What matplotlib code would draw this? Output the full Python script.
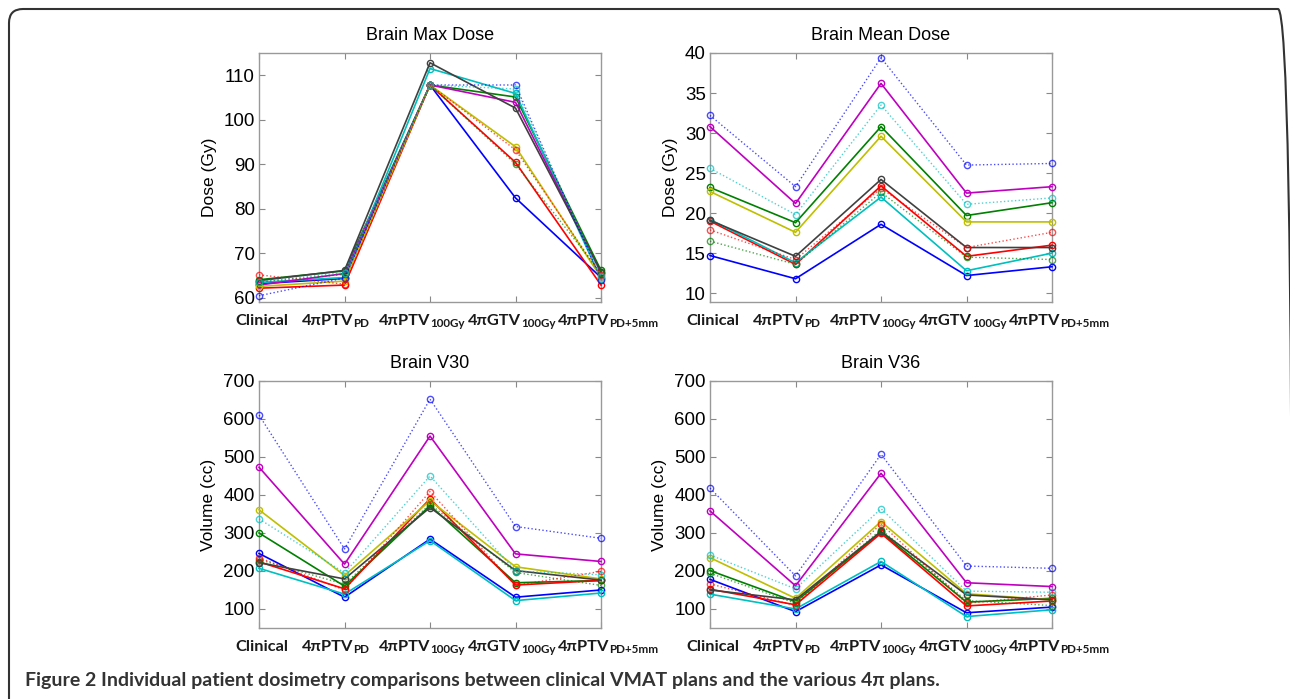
import matplotlib
matplotlib.use("Agg")
import matplotlib.pyplot as plt
from matplotlib.patches import FancyBboxPatch
from matplotlib.transforms import IdentityTransform, ScaledTranslation

plt.rcParams['font.family'] = ['Liberation Sans', 'DejaVu Sans']

# --- data ---
plan_main = ['Clinical', '4πPTV', '4πPTV', '4πGTV', '4πPTV']
plan_sub = ['', 'PD', '100Gy', '100Gy', 'PD+5mm']

# patient order: solid b g r c m y k, then dotted b g r c
max_dose = [
    [63.1, 64.3, 107.8, 82.4, 64.5],
    [64.0, 66.0, 107.8, 105.1, 66.1],
    [62.1, 62.8, 107.8, 90.4, 62.8],
    [63.4, 64.5, 111.5, 105.9, 64.2],
    [62.8, 65.4, 107.8, 103.9, 65.6],
    [62.5, 63.7, 107.8, 93.9, 64.5],
    [63.8, 66.1, 112.8, 102.6, 65.8],
    [60.4, 64.4, 107.8, 107.8, 64.0],
    [63.5, 65.2, 107.8, 90.0, 65.5],
    [65.1, 63.0, 107.8, 93.2, 65.1],
    [63.6, 65.6, 107.8, 106.9, 64.8],
]
mean_dose = [
    [14.7, 11.8, 18.6, 12.2, 13.3],
    [23.2, 18.8, 30.8, 19.7, 21.3],
    [19.0, 13.6, 23.4, 14.6, 16.0],
    [19.2, 13.8, 22.0, 12.8, 15.0],
    [30.8, 21.2, 36.2, 22.5, 23.3],
    [22.7, 17.6, 29.6, 18.9, 18.9],
    [19.1, 14.6, 24.2, 15.7, 15.7],
    [32.2, 23.3, 39.4, 26.0, 26.2],
    [16.5, 13.6, 22.6, 14.5, 14.2],
    [17.9, 14.2, 23.1, 15.7, 17.6],
    [25.6, 19.8, 33.5, 21.1, 21.9],
]
v30 = [
    [246, 131, 284, 131, 150],
    [300, 160, 372, 169, 175],
    [224, 153, 390, 163, 175],
    [207, 139, 280, 122, 142],
    [473, 218, 555, 245, 225],
    [361, 188, 385, 211, 179],
    [222, 179, 367, 201, 176],
    [610, 258, 652, 317, 286],
    [230, 165, 376, 196, 162],
    [235, 150, 409, 162, 199],
    [337, 195, 450, 200, 190],
]
v36 = [
    [178, 93, 216, 90, 105],
    [201, 119, 302, 118, 128],
    [152, 111, 299, 108, 121],
    [139, 100, 225, 80, 98],
    [358, 161, 457, 169, 159],
    [235, 128, 330, 140, 124],
    [150, 124, 304, 137, 124],
    [418, 187, 507, 213, 207],
    [194, 115, 309, 122, 109],
    [166, 109, 324, 115, 137],
    [242, 153, 364, 147, 144],
]

colors = ['#0000ff', '#008000', '#ff0000', '#00bfbf', '#bf00bf', '#bfbf00', '#404040',
          '#0000ff', '#008000', '#ff0000', '#00bfbf']
styles = ['-'] * 7 + [':'] * 4

fig = plt.figure(figsize=(12.9, 6.99), dpi=100)
renderer = fig.canvas.get_renderer()

panels = [
    ("Brain Max Dose", "Dose (Gy)", max_dose, (59, 115), range(60, 111, 10), [0.2008, 0.5680, 0.2651, 0.3562]),
    ("Brain Mean Dose", "Dose (Gy)", mean_dose, (8.9, 40), range(10, 41, 5), [0.5504, 0.5680, 0.2651, 0.3562]),
    ("Brain V30", "Volume (cc)", v30, (50, 700), range(100, 701, 100), [0.2008, 0.1016, 0.2651, 0.3534]),
    ("Brain V36", "Volume (cc)", v36, (50, 700), range(100, 701, 100), [0.5504, 0.1016, 0.2651, 0.3534]),
]

LAB = dict(fontfamily=['Lato', 'DejaVu Sans'], fontweight='bold', color='#1a1a1a', va='baseline')
# the labels in the original are spread evenly, not exactly centred on the ticks
label_shift = [3, -9, -8, -4, 7]


def px(dx, dy):
    return ScaledTranslation(dx / 100, dy / 100, fig.dpi_scale_trans)


def plan_label(ax, xi, main, sub, shift):
    # main text + smaller subscript under the tick
    base = ax.get_xaxis_transform()
    t1 = ax.text(xi, 0, main, fontsize=11.8, transform=base, ha='left', **LAB)
    w1 = t1.get_window_extent(renderer).width
    w2 = 0
    t2 = None
    if sub:
        t2 = ax.text(xi, 0, sub, fontsize=8.4, transform=base, ha='left', **LAB)
        w2 = t2.get_window_extent(renderer).width
    x0 = -(w1 + w2) / 2 + shift
    t1.set_transform(base + px(x0, -23))
    if t2 is not None:
        t2.set_transform(base + px(x0 + w1, -25))


x = [1, 2, 3, 4, 5]
for title, ylab, data, ylim, yt, rect in panels:
    ax = fig.add_axes(rect)
    for vals, c, ls in zip(data, colors, styles):
        lw = 1.2 if ls == '-' else 1.0
        alpha = 1.0 if ls == '-' else 0.7
        ax.plot(x, vals, ls, color=c, lw=lw, alpha=alpha, marker='o', ms=4.5,
                mfc='none', mew=1.0, clip_on=False, zorder=3)
    ax.set_xlim(1, 5)
    ax.set_ylim(*ylim)
    ax.set_yticks(list(yt))
    ax.set_xticks(x)
    ax.set_xticklabels([])
    for xi, m, s, sh in zip(x, plan_main, plan_sub, label_shift):
        plan_label(ax, xi, m, s, sh)
    ax.tick_params(direction='in', length=4, top=True, right=True, width=0.8,
                   colors='#888888')
    ax.tick_params(axis='y', labelsize=13.5, labelcolor='black', pad=3)
    for s in ax.spines.values():
        s.set_color('#999999')
        s.set_linewidth(1.0)
    ax.set_title(title, fontsize=13, pad=9)
    ax.set_ylabel(ylab, fontsize=12.5, labelpad=5)

fig.text(0.019, 0.026, "Figure 2 Individual patient dosimetry comparisons between clinical VMAT plans and the various 4\u03c0 plans.",
         fontfamily=['Lato', 'DejaVu Sans'], fontweight='bold', fontsize=14, color='#333333',
         va='center', ha='left')

# rounded frame around the figure (pixel coordinates, origin bottom-left)
frame = FancyBboxPatch((9, -30), 1283, 699 - 9 + 30,
                       boxstyle="round,pad=0,rounding_size=14",
                       transform=IdentityTransform(), fill=False, ec='#333333', lw=1.5)
fig.patches.append(frame)

fig.savefig("out.png", dpi=100)
